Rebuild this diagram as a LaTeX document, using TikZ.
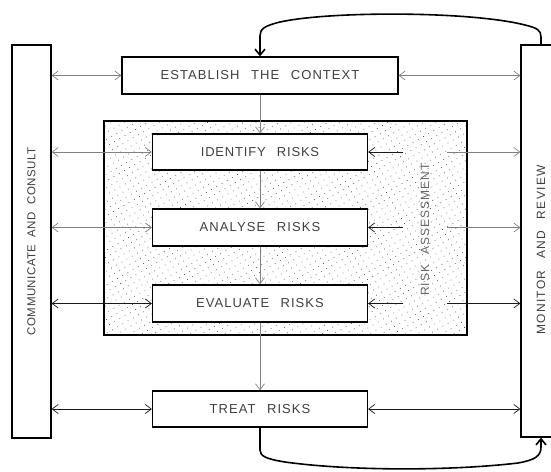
\documentclass[tikz,border=0pt]{standalone}
\usepackage{fontspec}
\setmainfont{Liberation Sans}
\newcommand\setlbl[3]{\fontspec{Liberation Sans}[LetterSpace=#2,WordSpace=#3]\fontsize{#1}{#1}\selectfont}
\usetikzlibrary{arrows.meta,patterns.meta}
\begin{document}
\begin{tikzpicture}[x=1pt,y=-1pt,
  lbl/.style={text=black!75},
  box/.style={draw, line width=1.3pt, fill=white, inner sep=0pt, lbl},
  harr/.style={{Straight Barb[length=6pt,width=9pt]}-{Straight Barb[length=6pt,width=9pt]}, line width=0.7pt},
  onearr/.style={-{Straight Barb[length=6pt,width=9pt]}, line width=0.7pt},
  loopline/.style={line width=1.6pt, -{Straight Barb[length=6pt,width=10pt]}},
  gr/.style={draw=black!50},
  bk/.style={draw=black!90}
]
\useasboundingbox (0,0) rectangle (551,471);

% side boxes
\node[box, font=\setlbl{11.5}{4}{2}, rotate=90, minimum width=393pt, minimum height=39pt] (cc) at (31.5,241.5) {COMMUNICATE AND CONSULT};
\node[box, font=\setlbl{12}{11}{2.5}, rotate=90, minimum width=392pt, minimum height=40pt] (mr) at (541,241) {MONITOR AND REVIEW\hspace*{18pt}};

% risk assessment area
\node[draw, line width=1.3pt, pattern={Dots[radius=0.5pt, distance=6pt, angle=30]}, pattern color=black!70,
      minimum width=363pt, minimum height=214pt, inner sep=0pt] (ra) at (285.5,228) {};
\node[lbl, font=\setlbl{12}{8}{2.5}, text=black!60, rotate=90, minimum height=43pt, inner sep=0pt] (ral) at (425,229.5) {RISK ASSESSMENT};

% step boxes
\node[box, font=\setlbl{13}{8}{2.5}, minimum width=276pt, minimum height=37pt] (est) at (260,75.5) {ESTABLISH THE CONTEXT};
\node[box, font=\setlbl{13}{6.3}{2.5}, minimum width=215pt, minimum height=36pt] (id) at (260,152) {IDENTIFY RISKS};
\node[box, font=\setlbl{13}{8.3}{2.5}, minimum width=215pt, minimum height=37pt] (an) at (260,227.5) {ANALYSE RISKS};
\node[box, font=\setlbl{13}{7.7}{2.5}, minimum width=215pt, minimum height=37pt] (ev) at (260,303.5) {EVALUATE RISKS};
\node[box, font=\setlbl{13}{8}{2.5}, minimum width=215pt, minimum height=36pt] (tr) at (260,409) {TREAT RISKS};

% vertical flow
\draw[onearr, gr] (est.south) -- (id.north);
\draw[onearr, gr] (id.south) -- (an.north);
\draw[onearr, gr] (an.south) -- (ev.north);
\draw[onearr, gr] (ev.south) -- (tr.north);

% left (communicate) arrows
\draw[harr, gr] (cc.south |- est.west) -- (est.west);
\draw[harr, gr] (cc.south |- id.west) -- (id.west);
\draw[harr, gr] (cc.south |- an.west) -- (an.west);
\draw[harr, bk] (cc.south |- ev.west) -- (ev.west);
\draw[harr, bk] (cc.south |- tr.west) -- (tr.west);

% right (monitor) arrows
\draw[harr, gr] (est.east) -- (mr.north |- est.east);
\draw[onearr, bk] (ral.north |- id.east) -- (id.east);
\draw[onearr, gr] (ral.south |- id.east) -- (mr.north |- id.east);
\draw[onearr, bk] (ral.north |- an.east) -- (an.east);
\draw[onearr, gr] (ral.south |- an.east) -- (mr.north |- an.east);
\draw[onearr, bk] (ral.north |- ev.east) -- (ev.east);
\draw[onearr, bk] (ral.south |- ev.east) -- (mr.north |- ev.east);
\draw[harr, bk] (tr.east) -- (mr.north |- tr.east);

% feedback loops
\draw[loopline] (mr.east) -- (541,37) .. controls (541,30) and (537,28) .. (525,25)
   .. controls (470,11) and (330,11) .. (280,22)
   .. controls (264,26) and (260,29) .. (260,36) -- (est.north);
\draw[loopline] (tr.south) -- (260,450) .. controls (260,456) and (266,459) .. (285,462)
   .. controls (350,471) and (450,471) .. (518,463)
   .. controls (535,460) and (541,456) .. (541,447) -- (mr.west);
\end{tikzpicture}
\end{document}
